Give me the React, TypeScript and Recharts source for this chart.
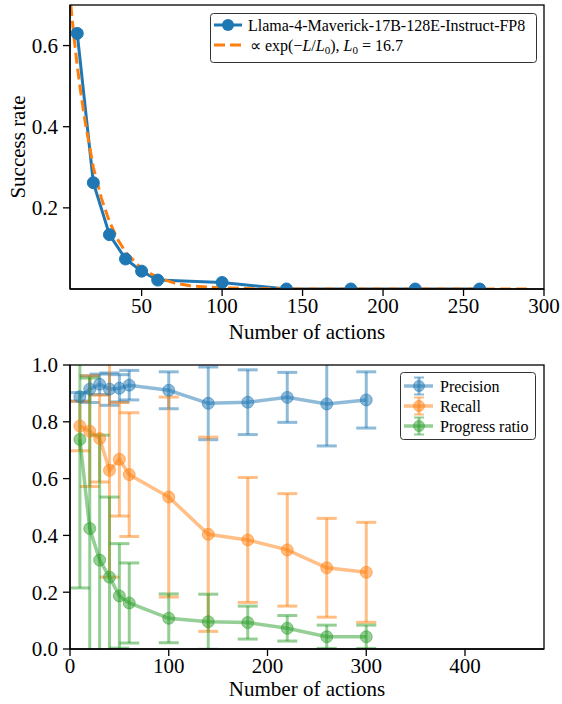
import React from "react";
import { ComposedChart, Line, XAxis, YAxis, ErrorBar, Legend } from "recharts";

const FONT = '"Liberation Serif", serif';
const BLUE = "#1f77b4";
const ORANGE = "#ff7f0e";
const GREEN = "#2ca02c";

// top panel: success rate vs number of actions
const actionsTop = [10, 20, 30, 40, 50, 60, 100, 140, 180, 220, 260];
const successRate = [0.63, 0.262, 0.134, 0.074, 0.044, 0.022, 0.016, 0, 0, 0, 0];

// exponential fit
const fitActions = [6, 8, 10, 12, 15, 20, 25, 30, 35, 40, 50, 60, 70, 80, 100, 120, 150, 200, 250, 290];
const fitValues = [0.7, 0.62, 0.55, 0.49, 0.41, 0.3, 0.224, 0.166, 0.123, 0.091, 0.05, 0.028, 0.015, 0.008, 0.0025, 0.0008, 0.0001, 0, 0, 0];

const topTicksX = [50, 100, 150, 200, 250, 300];
const topTicksY = [0.2, 0.4, 0.6];

// bottom panel: precision / recall / progress ratio with std error bars
const actionsBottom = [10, 20, 30, 40, 50, 60, 100, 140, 180, 220, 260, 300];
const precision = [0.888, 0.915, 0.932, 0.915, 0.918, 0.929, 0.911, 0.865, 0.869, 0.886, 0.863, 0.877];
const precisionErr = [0.015, 0.047, 0.036, 0.057, 0.048, 0.052, 0.065, 0.128, 0.114, 0.088, 0.148, 0.099];
const recall = [0.785, 0.767, 0.741, 0.629, 0.668, 0.614, 0.535, 0.404, 0.384, 0.349, 0.286, 0.27];
const recallErr = [0.087, 0.195, 0.153, 0.376, 0.2, 0.218, 0.352, 0.342, 0.22, 0.198, 0.174, 0.176];
const progress = [0.738, 0.424, 0.313, 0.253, 0.187, 0.162, 0.108, 0.096, 0.093, 0.073, 0.043, 0.043];
const progressErr = [0.523, 0.53, 0.44, 0.282, 0.184, 0.141, 0.086, 0.097, 0.058, 0.045, 0.041, 0.041];

const bottomTicksX = [0, 100, 200, 300, 400];
const bottomTicksY = [0, 0.2, 0.4, 0.6, 0.8, 1.0];

const topRows = actionsTop.map((x, i) => ({ x, y: successRate[i] }));
const fitRows = fitActions.map((x, i) => ({ x, y: fitValues[i] }));
const bottomRows = actionsBottom.map((x, i) => ({
  x,
  precision: precision[i],
  precisionErr: precisionErr[i],
  recall: recall[i],
  recallErr: recallErr[i],
  progress: progress[i],
  progressErr: progressErr[i],
}));

const tickStyle = { fill: "#000", fontSize: 21, fontFamily: FONT };
const axisLine = { stroke: "#000", strokeWidth: 1.3 };
const tickLine = { stroke: "#000", strokeWidth: 1.3 };

// plot boxes (pixels) shared by the clip paths and the frame overlay
const TOP_BOX = { x: 70, y: 5, w: 474, h: 284 };
const BOTTOM_BOX = { x: 70, y: 365, w: 474, h: 284 };

// clip marks to the plot boxes, like matplotlib does
const css = `
.top-chart .recharts-line-dots { clip-path: url(#topPlotClip); }
.bottom-chart .recharts-errorBar { clip-path: url(#bottomPlotClip); }
.bottom-chart .recharts-line-dots { clip-path: url(#bottomPlotClip); }
.top-chart text, .bottom-chart text { font-family: "Liberation Serif", serif; }
`;

function SuccessLabel(props: any) {
  const vb = props.viewBox || { y: 5, height: 284 };
  const cx = 25;
  const cy = vb.y + vb.height / 2;
  return (
    <text x={cx} y={cy} transform={`rotate(-90 ${cx} ${cy})`} textAnchor="middle" fontSize={21} fontFamily={FONT} fill="#000">
      Success rate
    </text>
  );
}

function TopLegend() {
  return (
    <svg width={327} height={50} style={{ display: "block" }}>
      <rect x={0.5} y={0.5} width={326} height={49} rx={3} fill="#fff" fillOpacity={0.8} stroke="#333" />
      <line x1={4} x2={32} y1={12} y2={12} stroke={BLUE} strokeWidth={3} />
      <circle cx={18} cy={12} r={6} fill={BLUE} />
      <text x={38} y={17.5} fontSize={16} fontFamily={FONT} fill="#000">
        Llama-4-Maverick-17B-128E-Instruct-FP8
      </text>
      <line x1={4} x2={32} y1={32} y2={32} stroke={ORANGE} strokeWidth={3} strokeDasharray="11 5" />
      <text x={40} y={37.5} fontSize={16} fontFamily={FONT} fill="#000">
        <tspan>∝ exp(−</tspan>
        <tspan fontStyle="italic">L</tspan>
        <tspan>/</tspan>
        <tspan fontStyle="italic">L</tspan>
        <tspan fontSize={11} dy={3}>0</tspan>
        <tspan dy={-3}>),  </tspan>
        <tspan fontStyle="italic">L</tspan>
        <tspan fontSize={11} dy={3}>0</tspan>
        <tspan dy={-3}> = 16.7</tspan>
      </text>
    </svg>
  );
}

const bottomItems = [
  { name: "Precision", color: BLUE },
  { name: "Recall", color: ORANGE },
  { name: "Progress ratio", color: GREEN },
];

function BottomLegend() {
  return (
    <svg width={136} height={68} style={{ display: "block" }}>
      <rect x={0.5} y={0.5} width={135} height={67} rx={3} fill="#fff" fillOpacity={0.8} stroke="#333" />
      {bottomItems.map((it, i) => {
        const cy = 14 + i * 20;
        return (
          <g key={it.name}>
            <line x1={4} x2={33} y1={cy} y2={cy} stroke={it.color} strokeOpacity={0.5} strokeWidth={3.5} />
            <line x1={19} x2={19} y1={cy - 8.5} y2={cy + 8.5} stroke={it.color} strokeOpacity={0.5} strokeWidth={3} />
            <line x1={14} x2={24} y1={cy - 8.5} y2={cy - 8.5} stroke={it.color} strokeOpacity={0.5} strokeWidth={2} />
            <line x1={14} x2={24} y1={cy + 8.5} y2={cy + 8.5} stroke={it.color} strokeOpacity={0.5} strokeWidth={2} />
            <circle cx={19} cy={cy} r={5.5} fill={it.color} fillOpacity={0.5} stroke={it.color} strokeOpacity={0.5} />
            <text x={40} y={cy + 5.5} fontSize={16} fontFamily={FONT} fill="#000">
              {it.name}
            </text>
          </g>
        );
      })}
    </svg>
  );
}

const series = [
  { key: "precision", err: "precisionErr", color: BLUE },
  { key: "recall", err: "recallErr", color: ORANGE },
  { key: "progress", err: "progressErr", color: GREEN },
];

export default function App() {
  return (
    <div style={{ position: "absolute", left: 0, top: 0, width: 562, height: 704, background: "#fff", fontFamily: FONT }}>
      <style>{css}</style>
      <svg width={0} height={0} style={{ position: "absolute" }}>
        <defs>
          <clipPath id="topPlotClip">
            <rect x={TOP_BOX.x} y={TOP_BOX.y} width={TOP_BOX.w} height={TOP_BOX.h} />
          </clipPath>
          <clipPath id="bottomPlotClip">
            <rect x={BOTTOM_BOX.x} y={BOTTOM_BOX.y - 340} width={BOTTOM_BOX.w} height={BOTTOM_BOX.h} />
          </clipPath>
        </defs>
      </svg>
      <div className="bottom-chart" style={{ position: "absolute", left: 0, top: 340 }}>
        <ComposedChart width={562} height={364} data={bottomRows} margin={{ top: 25, right: 18, bottom: 0, left: 0 }}>
          <XAxis
            dataKey="x"
            type="number"
            domain={[0, 480]}
            ticks={bottomTicksX}
            interval={0}
            allowDataOverflow
            height={55}
            tick={tickStyle}
            tickSize={7}
            tickMargin={2}
            axisLine={axisLine}
            tickLine={tickLine}
            label={{ value: "Number of actions", position: "insideBottom", offset: 8, fill: "#000", fontSize: 21, fontFamily: FONT }}
          />
          <YAxis
            type="number"
            domain={[0, 1]}
            ticks={bottomTicksY}
            interval={0}
            allowDataOverflow
            width={70}
            tick={tickStyle}
            tickSize={7}
            tickMargin={5}
            tickFormatter={(v: number) => v.toFixed(1)}
            axisLine={axisLine}
            tickLine={tickLine}
          />
          {series.map((s) => (
            <Line
              key={s.key}
              dataKey={s.key}
              type="linear"
              stroke={s.color}
              strokeOpacity={0.5}
              strokeWidth={3.5}
              dot={{ r: 6, fill: s.color, fillOpacity: 0.5, stroke: s.color, strokeOpacity: 0.5, strokeWidth: 1 }}
              activeDot={false}
              isAnimationActive={false}
            >
              <ErrorBar dataKey={s.err} width={10} stroke={s.color} strokeOpacity={0.5} strokeWidth={3} direction="y" />
            </Line>
          ))}
          <Legend verticalAlign="middle" layout="horizontal" wrapperStyle={{ left: 400, top: 32, width: 136, height: 68 }} content={() => <BottomLegend />} />
        </ComposedChart>
      </div>
      <div className="top-chart" style={{ position: "absolute", left: 0, top: 0 }}>
        <ComposedChart width={562} height={350} margin={{ top: 5, right: 18, bottom: 10, left: 0 }}>
          <XAxis
            dataKey="x"
            type="number"
            domain={[5.5, 300]}
            ticks={topTicksX}
            interval={0}
            allowDataOverflow
            height={51}
            tick={tickStyle}
            tickSize={7}
            tickMargin={2}
            axisLine={axisLine}
            tickLine={tickLine}
            label={{ value: "Number of actions", position: "insideBottom", offset: 1, fill: "#000", fontSize: 21, fontFamily: FONT }}
          />
          <YAxis
            type="number"
            domain={[0, 0.7]}
            ticks={topTicksY}
            interval={0}
            allowDataOverflow
            width={70}
            tick={tickStyle}
            tickSize={7}
            tickMargin={5}
            tickFormatter={(v: number) => v.toFixed(1)}
            axisLine={axisLine}
            tickLine={tickLine}
            label={<SuccessLabel />}
          />
          <Line
            data={topRows}
            dataKey="y"
            type="linear"
            stroke={BLUE}
            strokeWidth={3}
            dot={{ r: 6, fill: BLUE, stroke: BLUE, strokeWidth: 1 }}
            activeDot={false}
            isAnimationActive={false}
          />
          <Line
            data={fitRows}
            dataKey="y"
            type="linear"
            stroke={ORANGE}
            strokeWidth={3}
            strokeDasharray="11 5"
            dot={false}
            activeDot={false}
            isAnimationActive={false}
          />
          <Legend verticalAlign="middle" layout="horizontal" wrapperStyle={{ left: 210, top: 13, width: 327, height: 50 }} content={() => <TopLegend />} />
        </ComposedChart>
      </div>
      {/* full frame around each plot (matplotlib spines on all four sides) */}
      <svg width={562} height={704} style={{ position: "absolute", left: 0, top: 0, pointerEvents: "none" }}>
        {[TOP_BOX, BOTTOM_BOX].map((b, i) => (
          <rect key={i} x={b.x} y={b.y} width={b.w} height={b.h} fill="none" stroke="#000" strokeWidth={1.3} />
        ))}
      </svg>
    </div>
  );
}
